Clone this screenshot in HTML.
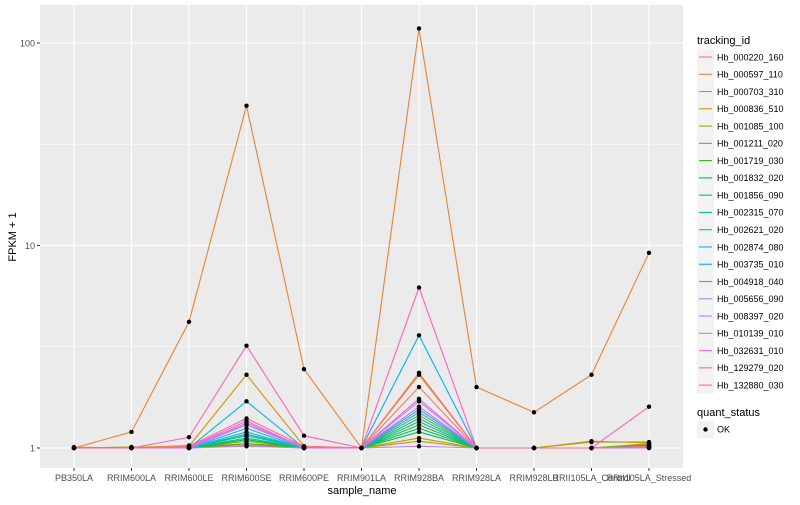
<!DOCTYPE html>
<html><head><meta charset="utf-8"><style>
body{margin:0;background:#fff;}
svg text{font-family:"Liberation Sans",sans-serif;}
</style></head><body>
<svg id="chart" width="800" height="500" xmlns="http://www.w3.org/2000/svg">
<rect x="40" y="5" width="643" height="463" fill="#ebebeb"/>
<g id="grid"></g><g id="lines"></g><g id="pts"></g><g id="axes"></g><g id="legend"></g>
<text x="362" y="494" font-size="11" text-anchor="middle" fill="#000">sample_name</text>
<text x="16" y="237" font-size="11" text-anchor="middle" fill="#000" transform="rotate(-90 16 237)">FPKM + 1</text>
</svg>
<script>
const categories=["PB350LA","RRIM600LA","RRIM600LE","RRIM600SE","RRIM600PE","RRIM901LA","RRIM928BA","RRIM928LA","RRIM928LB","RRII105LA_Control","RRII105LA_Stressed"];
const seriesNames=["Hb_000220_160","Hb_000597_110","Hb_000703_310","Hb_000836_510","Hb_001085_100","Hb_001211_020","Hb_001719_030","Hb_001832_020","Hb_001856_090","Hb_002315_070","Hb_002621_020","Hb_002874_080","Hb_003735_010","Hb_004918_040","Hb_005656_090","Hb_008397_020","Hb_010139_010","Hb_032631_010","Hb_129279_020","Hb_132880_030"];
const colors=["#F8766D","#EA8331","#D89000","#C09B00","#A3A500","#7CAE00","#39B600","#00BB4E","#00BF7D","#00C1A3","#00BFC4","#00BAE0","#00B0F6","#35A2FF","#9590FF","#C77CFF","#E76BF3","#FA62DB","#FF62BC","#FF6C91"];
const s00=[1.01,1.0,1.03,1.3,1.02,1.0,2.0,1.0,1.0,1.0,1.03];
const s01=[1.0,1.2,4.2,49,2.45,1.0,118,2.0,1.5,2.3,9.2];
const s02=[1.0,1.01,1.02,2.3,1.02,1.0,2.3,1.0,1.0,1.08,1.06];
const s03=[1.0,1.0,1.01,1.05,1.01,1.0,1.12,1.0,1.0,1.07,1.07];
const s04=[1.0,1.01,1.0,1.03,1.0,1.0,1.08,1.0,1.0,1.0,1.05];
const s05=[1.0,1.0,1.0,1.08,1.0,1.0,1.45,1.0,1.0,1.0,1.04];
const s06=[1.0,1.0,1.0,1.05,1.0,1.0,1.3,1.0,1.0,1.0,1.03];
const s07=[1.0,1.0,1.0,1.1,1.0,1.0,1.2,1.0,1.0,1.0,1.02];
const s08=[1.0,1.0,1.0,1.17,1.0,1.0,1.25,1.0,1.0,1.0,1.02];
const s09=[1.0,1.0,1.0,1.12,1.0,1.0,1.35,1.0,1.0,1.0,1.02];
const s10=[1.0,1.0,1.0,1.15,1.0,1.0,1.4,1.0,1.0,1.0,1.01];
const s11=[1.0,1.0,1.0,1.2,1.0,1.0,1.5,1.0,1.0,1.0,1.01];
const s12=[1.0,1.0,1.0,1.7,1.0,1.0,3.6,1.0,1.0,1.0,1.01];
const s13=[1.0,1.0,1.0,1.25,1.0,1.0,1.55,1.0,1.0,1.0,1.0];
const s14=[1.0,1.0,1.0,1.3,1.0,1.0,1.7,1.0,1.0,1.0,1.0];
const s15=[1.0,1.0,1.0,1.02,1.0,1.0,1.02,1.0,1.0,1.0,1.0];
const s16=[1.0,1.0,1.0,1.33,1.0,1.0,1.6,1.0,1.0,1.0,1.01];
const s17=[1.0,1.0,1.01,1.36,1.0,1.0,1.75,1.0,1.0,1.0,1.01];
const s18=[1.0,1.0,1.13,3.2,1.15,1.0,6.2,1.0,1.0,1.0,1.6];
const s19=[1.0,1.0,1.02,1.4,1.02,1.0,2.35,1.0,1.0,1.0,1.02];
const seriesValues=[s00,s01,s02,s03,s04,s05,s06,s07,s08,s09,s10,s11,s12,s13,s14,s15,s16,s17,s18,s19];
const yTicks=[1,10,100];
const yTickLabels=["1","10","100"];
const yMinor=[Math.sqrt(10),Math.sqrt(1000)];

const NS="http://www.w3.org/2000/svg";
function xPos(i){return 74+i*57.5;}
function yPos(v){return 448-202.5*Math.log10(v);}
function mk(tag,attrs,parent){const e=document.createElementNS(NS,tag);for(const k in attrs)e.setAttribute(k,attrs[k]);parent.appendChild(e);return e;}
const grid=document.getElementById('grid'),lines=document.getElementById('lines'),pts=document.getElementById('pts'),axes=document.getElementById('axes'),legend=document.getElementById('legend');
yMinor.forEach(v=>{const l=mk('line',{x1:40,x2:683,y1:yPos(v),y2:yPos(v),stroke:'#fff','stroke-width':0.5},grid);

});
yTicks.forEach((v,i)=>{const y=yPos(v);
const l=mk('line',{x1:40,x2:683,y1:y,y2:y,stroke:'#fff','stroke-width':1.1},grid);


mk('line',{x1:37,x2:40,y1:y,y2:y,stroke:'#333','stroke-width':1},axes);
const t=mk('text',{x:35,y:y+3.5,'font-size':9,'text-anchor':'end',fill:'#4d4d4d'},axes);t.textContent=yTickLabels[i];

});
categories.forEach((c,i)=>{const x=xPos(i);
const l=mk('line',{x1:x,x2:x,y1:5,y2:468,stroke:'#fff','stroke-width':1.1},grid);


mk('line',{x1:x,x2:x,y1:468,y2:471,stroke:'#333','stroke-width':1},axes);
const t=mk('text',{x:x,y:481,'font-size':9,'text-anchor':'middle',fill:'#4d4d4d'},axes);t.textContent=c;

});
seriesValues.forEach((vals,s)=>{
const p=mk('polyline',{points:vals.map((v,i)=>xPos(i)+','+yPos(v)).join(' '),fill:'none',stroke:colors[s],'stroke-width':1.1},lines);


vals.forEach((v,i)=>{const c=mk('circle',{cx:xPos(i),cy:yPos(v),r:2.2,fill:'#000'},pts);

});});
const lt=mk('text',{x:697,y:44,'font-size':11,fill:'#000'},legend);lt.textContent='tracking_id';


seriesNames.forEach((n,i)=>{const y=57+i*17.27;
const g=mk('g',{},legend);


mk('rect',{x:697,y:y-8.5,width:17,height:17,fill:'#f2f2f2'},g);
mk('line',{x1:699,x2:712,y1:y,y2:y,stroke:colors[i],'stroke-width':1.1},g);
const t=mk('text',{x:717,y:y+3.3,'font-size':9,fill:'#000'},g);t.textContent=n;});
const qt=mk('text',{x:697,y:416,'font-size':11,fill:'#000'},legend);qt.textContent='quant_status';


const qg=mk('g',{},legend);


mk('rect',{x:697,y:421,width:17,height:17,fill:'#f2f2f2'},qg);
mk('circle',{cx:705.5,cy:429.5,r:2.2,fill:'#000'},qg);
const ok=mk('text',{x:717,y:432.5,'font-size':9,fill:'#000'},qg);ok.textContent='OK';
</script>
</body></html>
